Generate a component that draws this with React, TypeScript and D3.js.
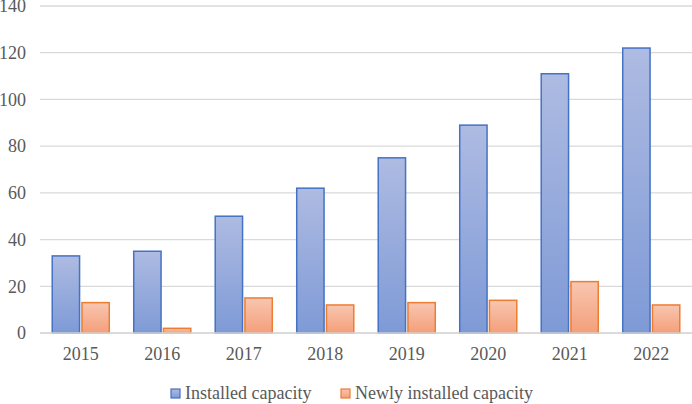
import { useMemo } from 'react'
import * as d3 from 'd3'

const years = ['2015', '2016', '2017', '2018', '2019', '2020', '2021', '2022']
const installed = [33, 35, 50, 62, 75, 89, 111, 122]
const newlyInstalled = [13, 2, 15, 12, 13, 14, 22, 12]
const yTicks = [0, 20, 40, 60, 80, 100, 120, 140]
const seriesNames = ['Installed capacity', 'Newly installed capacity']

const W = 692
const H = 404
const margin = { top: 6, right: 0, bottom: 71, left: 40 }
const font = "'Liberation Serif', 'DejaVu Serif', serif"
const fs = 18

export default function App() {
  const innerW = W - margin.left - margin.right
  const innerH = H - margin.top - margin.bottom

  const { x, xs, y } = useMemo(() => {
    const x = d3.scaleBand<string>().domain(years).range([0, innerW]).paddingInner(0.3).paddingOuter(0.15)
    const xs = d3.scaleBand<number>().domain([0, 1]).range([0, x.bandwidth()]).paddingInner(0.08)
    const y = d3.scaleLinear().domain([0, 140]).range([innerH, 0])
    return { x, xs, y }
  }, [innerW, innerH])

  const series = [
    { values: installed, grad: 'g-blue', stroke: '#4472c4' },
    { values: newlyInstalled, grad: 'g-orange', stroke: '#ed7d31' },
  ]

  return (
    <svg width={W} height={H} style={{ position: 'absolute', left: 0, top: 0, background: '#fff' }} fontFamily={font}>
      <defs>
        <linearGradient id="g-blue" x1="0" y1="0" x2="0" y2="1">
          <stop offset="0%" stopColor="#aebbe2" />
          <stop offset="100%" stopColor="#7e9ad6" />
        </linearGradient>
        <linearGradient id="g-orange" x1="0" y1="0" x2="0" y2="1">
          <stop offset="0%" stopColor="#f8c6b0" />
          <stop offset="100%" stopColor="#f49f7a" />
        </linearGradient>
      </defs>
      <g transform={`translate(${margin.left},${margin.top})`}>
        {yTicks.map(t => (
          <g key={t}>
            <line x1={0} x2={innerW} y1={y(t)} y2={y(t)} stroke="#d9d9d9" strokeWidth={1.3} />
            <text x={-14} y={y(t)} dy="0.35em" textAnchor="end" fontSize={fs} fill="#595959">{t}</text>
          </g>
        ))}
        {years.map((yr, i) => (
          <g key={yr} transform={`translate(${x(yr)},0)`}>
            {series.map((s, k) => {
              const v = s.values[i]
              return (
                <rect
                  key={k}
                  x={xs(k)}
                  y={y(v)}
                  width={xs.bandwidth()}
                  height={innerH - y(v)}
                  fill={`url(#${s.grad})`}
                  stroke={s.stroke}
                  strokeWidth={1.5}
                />
              )
            })}
            <text x={x.bandwidth() / 2} y={innerH + 27} textAnchor="middle" fontSize={fs} fill="#595959">{yr}</text>
          </g>
        ))}
        <line x1={0} x2={innerW} y1={innerH} y2={innerH} stroke="#d9d9d9" strokeWidth={1.5} />
      </g>
      <g transform="translate(171,389)">
        <rect x={0} y={0} width={9} height={9} fill="url(#g-blue)" stroke="#4472c4" strokeWidth={1.2} />
        <text x={14} y={10} fontSize={fs} fill="#595959">{seriesNames[0]}</text>
        <rect x={170} y={0} width={9} height={9} fill="url(#g-orange)" stroke="#ed7d31" strokeWidth={1.2} />
        <text x={184} y={10} fontSize={fs} fill="#595959">{seriesNames[1]}</text>
      </g>
    </svg>
  )
}
